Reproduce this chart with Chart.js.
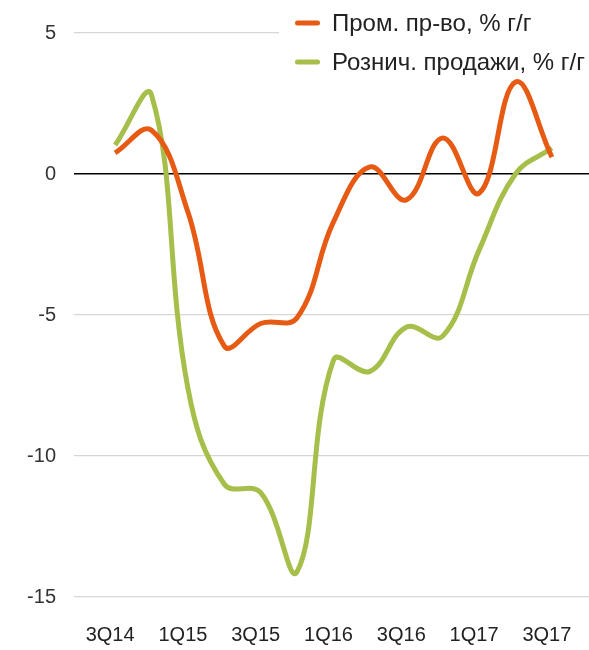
<!DOCTYPE html>
<html>
<head>
<meta charset="utf-8">
<script src="https://cdn.jsdelivr.net/npm/chart.js@4/dist/chart.umd.min.js"></script>
<style>
  html, body { margin: 0; padding: 0; background: #fff; overflow: hidden; }
  #wrap { width: 589px; height: 650px; position: relative; }
  canvas { display: block; }
</style>
</head>
<body>
<div id="wrap"><canvas id="chart"></canvas></div>
<script>
var quarters = ['3Q14', '4Q14', '1Q15', '2Q15', '3Q15', '4Q15', '1Q16', '2Q16', '3Q16', '4Q16', '1Q17', '2Q17', '3Q17'];
var industry = [0.75, 1.55, -1.35, -6.1, -5.3, -5.1, -1.7, 0.25, -0.92, 1.28, -0.68, 3.26, 0.6];
var retail = [1.03, 2.8, -7.6, -11.0, -11.3, -14.1, -6.6, -7.0, -5.43, -5.75, -2.7, 0.0, 0.92];
var seriesNames = ['Пром. пр-во, % г/г', 'Рознич. продажи, % г/г'];
var yTicks = [5, 0, -5, -10, -15];

var FONT = '"Liberation Sans", Arial, sans-serif';

function points(values) {
  return values.map(function(v, i) { return { x: i, y: v }; });
}

// legend drawn by hand, on a white box that hides the top grid line
var legendBox = {
  id: 'legendBox',
  afterDraw: function(chart) {
    var ctx = chart.ctx;
    ctx.save();
    ctx.fillStyle = '#fff';
    ctx.fillRect(279, 0, 310, 74);
    chart.data.datasets.forEach(function(ds, i) {
      var y = 23 + i * 39;
      ctx.strokeStyle = ds.borderColor;
      ctx.lineWidth = 5;
      ctx.lineCap = 'round';
      ctx.beginPath();
      ctx.moveTo(297.5, y);
      ctx.lineTo(317.5, y);
      ctx.stroke();
      ctx.fillStyle = '#222';
      ctx.font = '24px ' + FONT;
      ctx.textBaseline = 'middle';
      ctx.fillText(ds.label, 332, y + 1);
    });
    ctx.restore();
  }
};

new Chart(document.getElementById('chart'), {
  type: 'line',
  data: {
    datasets: [
      {
        label: seriesNames[0],
        data: points(industry),
        borderColor: '#e65a14',
        borderWidth: 5,
        pointRadius: 0,
        tension: 0.4,
        fill: false
      },
      {
        label: seriesNames[1],
        data: points(retail),
        borderColor: '#a6be4a',
        borderWidth: 5,
        pointRadius: 0,
        tension: 0.4,
        fill: false
      }
    ]
  },
  options: {
    responsive: true,
    maintainAspectRatio: false,
    animation: false,
    layout: { padding: { top: 33, right: 0, left: 0, bottom: 0 } },
    plugins: {
      legend: { display: false },
      tooltip: { enabled: false }
    },
    scales: {
      x: {
        type: 'linear',
        min: -1.13,
        max: 13.02,
        afterBuildTicks: function(axis) {
          axis.ticks = [0, 2, 4, 6, 8, 10, 12].map(function(v) { return { value: v }; });
        },
        afterFit: function(axis) {
          axis.height = 53;
          axis.paddingLeft = 0;
          axis.paddingRight = 0;
        },
        grid: { display: false, drawTicks: false },
        border: { display: false },
        ticks: {
          autoSkip: false,
          maxRotation: 0,
          padding: 26,
          labelOffset: -5,
          color: '#222',
          font: { family: FONT, size: 20 },
          callback: function(v) { return quarters[v]; }
        }
      },
      y: {
        min: -15,
        max: 5,
        afterBuildTicks: function(axis) {
          axis.ticks = yTicks.map(function(v) { return { value: v }; });
        },
        afterFit: function(axis) {
          axis.width = 74;
          axis.paddingTop = 0;
          axis.paddingBottom = 0;
        },
        grid: {
          drawTicks: false,
          color: function(c) { return c.tick && c.tick.value === 0 ? '#000' : '#d6d6d6'; },
          lineWidth: function(c) { return c.tick && c.tick.value === 0 ? 1.5 : 1.2; }
        },
        border: { display: false },
        ticks: {
          padding: 18,
          color: '#333',
          font: { family: FONT, size: 20 }
        }
      }
    }
  },
  plugins: [legendBox]
});
</script>
</body>
</html>
